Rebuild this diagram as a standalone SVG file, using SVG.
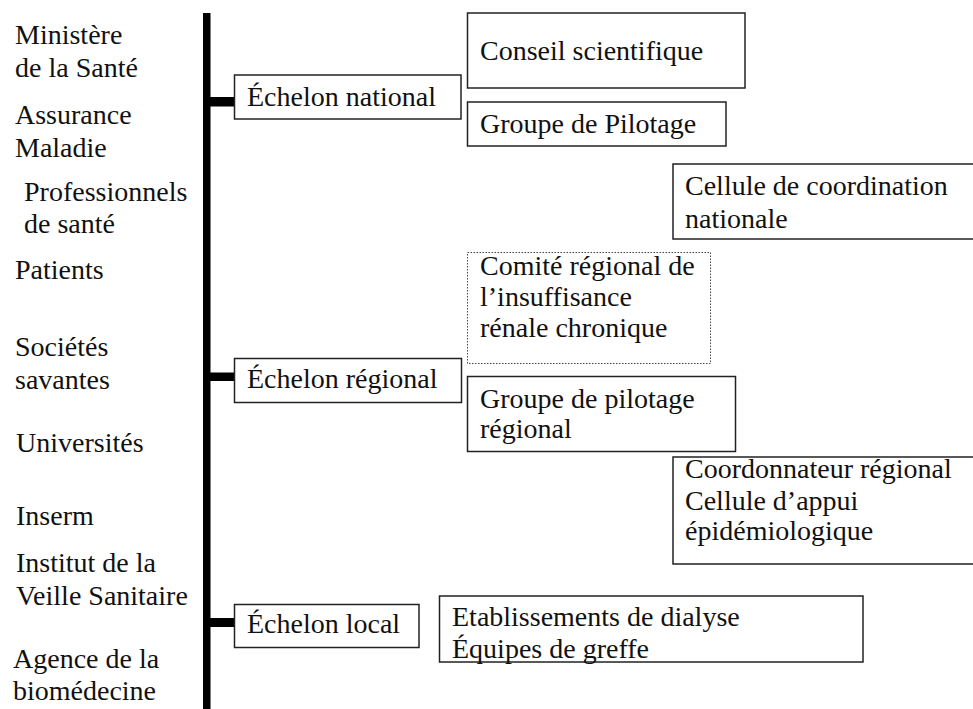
<svg xmlns="http://www.w3.org/2000/svg" width="973" height="709" viewBox="0 0 973 709">
<style>
text{font-family:"Liberation Serif","Times New Roman",serif;font-size:28px;fill:#111}
.box{fill:#fff;stroke:#222;stroke-width:1.5}
.dot{fill:#fff;stroke:#444;stroke-width:1;stroke-dasharray:1.5 1.5}
.bar{fill:#000}
</style>
<rect width="973" height="709" fill="#fff"/>
<g id="actors">
<text x="15" y="44">Ministère</text>
<text x="15" y="77">de la Santé</text>
<text x="15" y="124">Assurance</text>
<text x="15" y="157">Maladie</text>
<text x="24" y="201">Professionnels</text>
<text x="24" y="233">de santé</text>
<text x="15" y="279">Patients</text>
<text x="15" y="356">Sociétés</text>
<text x="15" y="389">savantes</text>
<text x="16" y="452">Universités</text>
<text x="16" y="525">Inserm</text>
<text x="16" y="572">Institut de la</text>
<text x="16" y="605">Veille Sanitaire</text>
<text x="13" y="668">Agence de la</text>
<text x="13" y="700">biomédecine</text>
</g>
<g id="connectors">
<rect class="bar" x="203" y="13" width="7.5" height="696"/>
<rect class="bar" x="208" y="97" width="26" height="9.5"/>
<rect class="bar" x="208" y="372.5" width="26" height="8.5"/>
<rect class="bar" x="208" y="618" width="26" height="9"/>
</g>
<g id="echelon-national">
<rect class="box" x="234.5" y="75" width="226.5" height="44"/>
<text x="247" y="106">Échelon national</text>
</g>
<g id="conseil-scientifique">
<rect class="box" x="467.5" y="13" width="277.5" height="75"/>
<text x="480" y="60">Conseil scientifique</text>
</g>
<g id="groupe-pilotage">
<rect class="box" x="467.5" y="102" width="258.5" height="44"/>
<text x="480" y="133">Groupe de Pilotage</text>
</g>
<g id="cellule-coordination">
<rect class="box" x="673" y="164" width="310" height="75"/>
<text x="685" y="195">Cellule de coordination</text>
<text x="685" y="228">nationale</text>
</g>
<g id="comite-regional">
<rect class="dot" x="467.5" y="252.5" width="243" height="111"/>
<text x="480" y="275">Comité régional de</text>
<text x="480" y="306">l’insuffisance</text>
<text x="480" y="337">rénale chronique</text>
</g>
<g id="echelon-regional">
<rect class="box" x="234.5" y="358.5" width="227" height="44"/>
<text x="247" y="388">Échelon régional</text>
</g>
<g id="groupe-pilotage-regional">
<rect class="box" x="467.5" y="376.5" width="268" height="75"/>
<text x="480" y="408">Groupe de pilotage</text>
<text x="480" y="438">régional</text>
</g>
<g id="coordonnateur-regional">
<rect class="box" x="673" y="457" width="310" height="107"/>
<text x="685" y="478">Coordonnateur régional</text>
<text x="685" y="510">Cellule d’appui</text>
<text x="685" y="540">épidémiologique</text>
</g>
<g id="echelon-local">
<rect class="box" x="234.5" y="604.5" width="184.5" height="43"/>
<text x="247" y="633">Échelon local</text>
</g>
<g id="etablissements">
<rect class="box" x="439.5" y="596" width="423.5" height="66"/>
<text x="452" y="626">Etablissements de dialyse</text>
<text x="452" y="658">Équipes de greffe</text>
</g>
</svg>
